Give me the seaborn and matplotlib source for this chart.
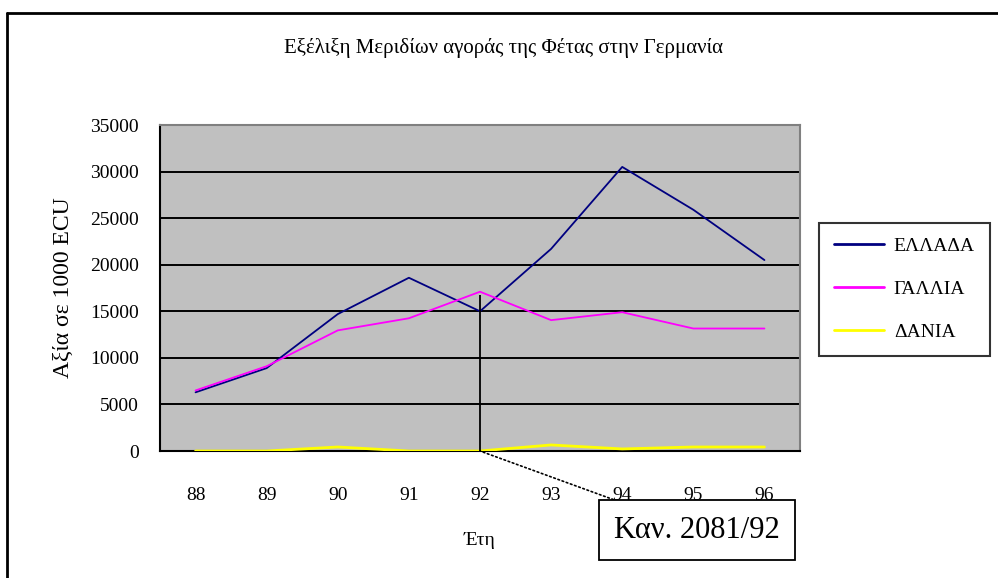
import matplotlib
matplotlib.use("Agg")
import matplotlib.pyplot as plt
import seaborn as sns
import pandas as pd
from matplotlib.lines import Line2D

# ---- data ----
years = ["88", "89", "90", "91", "92", "93", "94", "95", "96"]
greece = [6300, 8900, 14700, 18600, 15000, 21700, 30500, 25900, 20500]
france = [6500, 9100, 12950, 14250, 17100, 14050, 14900, 13150, 13150]
denmark = [0, 0, 430, 0, 0, 650, 220, 430, 430]
series_names = ["ΕΛΛΑΔΑ", "ΓΑΛΛΙΑ", "ΔΑΝΙΑ"]
series_colors = ["#000080", "#FF00FF", "#FFFF00"]
yticks = [0, 5000, 10000, 15000, 20000, 25000, 30000, 35000]
title = "Εξέλιξη Μεριδίων αγοράς της Φέτας στην Γερμανία"
ylabel = "Αξία σε 1000 ECU"
xlabel = "Έτη"
annot_text = "Καν. 2081/92"
annot_year = "92"
marker_top = 16700

df = pd.DataFrame({
    "year": years * 3,
    "value": greece + france + denmark,
    "country": [series_names[0]] * 9 + [series_names[1]] * 9 + [series_names[2]] * 9,
})

sns.set_style("white")
plt.rcParams["font.family"] = ["Liberation Serif", "DejaVu Serif"]
plt.rcParams["text.color"] = "black"
plt.rcParams["axes.labelcolor"] = "black"
plt.rcParams["xtick.color"] = "black"
plt.rcParams["ytick.color"] = "black"

W, H = 998, 578
fig = plt.figure(figsize=(W / 100, H / 100), dpi=100)
ax = fig.add_axes([160 / W, 1 - 451 / H, 640 / W, (451 - 125) / H])
ax.set_facecolor("#C0C0C0")

sns.lineplot(data=df, x="year", y="value", hue="country", palette=series_colors,
             hue_order=series_names, ax=ax, linewidth=1.3, legend=False, sort=False)
for ln, c in zip(ax.lines, series_colors):
    if c == "#FFFF00":
        ln.set_linewidth(2.0)

ax.set_xlim(-0.5, len(years) - 0.5)
ax.set_ylim(0, 35000)
ax.set_yticks(yticks)
ax.set_yticklabels([str(v) for v in yticks], fontsize=14)
ax.set_xticks(range(len(years)))
ax.set_xticklabels(years, fontsize=14)
ax.set_xticks([i - 0.5 for i in range(len(years) + 1)], minor=True)
ax.tick_params(axis="x", which="major", length=0, pad=26)
ax.tick_params(axis="x", which="minor", length=6, width=1.5, color="black", direction="out")
ax.tick_params(axis="y", length=6, width=1.5, color="black", direction="out", pad=9)
ax.grid(False)
for v in yticks[1:-1]:
    ax.axhline(v, color="black", lw=1.4, zorder=1)
for ln in ax.lines[:3]:
    ln.set_zorder(3)

for s in ["top", "right"]:
    ax.spines[s].set_color("#808080")
    ax.spines[s].set_linewidth(1.5)
for s in ["left", "bottom"]:
    ax.spines[s].set_color("black")
    ax.spines[s].set_linewidth(1.5)

ax.set_xlabel(xlabel, fontsize=14, labelpad=20)
ax.set_ylabel(ylabel, fontsize=17, labelpad=12)

xi = years.index(annot_year)
ax.vlines(xi, 0, marker_top, color="black", lw=1.3, zorder=4)

ax.annotate(annot_text, xy=(xi, 0), xycoords="data",
            xytext=(697, H - 530), textcoords="figure pixels",
            fontsize=22, ha="center", va="center",
            bbox=dict(boxstyle="square,pad=0.5", fc="white", ec="black", lw=1.3),
            arrowprops=dict(arrowstyle="-", linestyle=":", color="black", lw=1.2,
                            shrinkA=0, shrinkB=0),
            annotation_clip=False)

fig.text(503 / W, 1 - 48 / H, title, ha="center", va="center", fontsize=15)

handles = [Line2D([0], [0], color=c, lw=2) for c in series_colors]
leg = fig.legend(handles, series_names, loc="upper left",
                 bbox_to_anchor=(819 / W, 1 - 223 / H), bbox_transform=fig.transFigure,
                 frameon=True, fancybox=False, fontsize=14, handlelength=2.6,
                 labelspacing=1.3, borderpad=0.75, borderaxespad=0, handletextpad=0.5)
leg.get_frame().set_edgecolor("black")
leg.get_frame().set_linewidth(1.5)

fig.add_artist(Line2D([7 / W, 1.0], [1 - 13 / H, 1 - 13 / H], transform=fig.transFigure,
                      color="black", lw=2))
fig.add_artist(Line2D([7 / W, 7 / W], [0, 1 - 13 / H], transform=fig.transFigure,
                      color="black", lw=2))

fig.savefig("out.png", dpi=100, facecolor="white")
